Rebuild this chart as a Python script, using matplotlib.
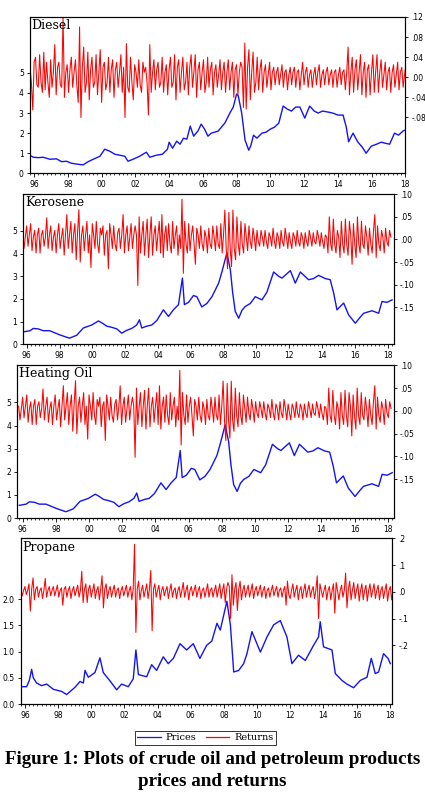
import numpy as np
import matplotlib
matplotlib.use("Agg")
import matplotlib.pyplot as plt
from matplotlib.lines import Line2D
from matplotlib.ticker import MultipleLocator

# ---------------- data ----------------
year_ticks = list(range(1996, 2019, 2))
year_labels = ["96", "98", "00", "02", "04", "06", "08", "10", "12", "14", "16", "18"]

# Diesel prices (date, $/gal)
diesel_dates = [1995.75, 1995.94, 1996.24, 1996.53, 1996.93, 1997.32, 1997.62, 1997.92, 1998.21, 1998.6,
                1998.9, 1999.2, 1999.5, 1999.9, 2000.18, 2000.48, 2000.78, 2001.07, 2001.37, 2001.56,
                2001.86, 2002.25, 2002.65, 2002.85, 2003.24, 2003.6, 2003.9, 2004.0, 2004.2, 2004.45,
                2004.65, 2004.85, 2005.05, 2005.25, 2005.45, 2005.7, 2005.9, 2006.1, 2006.3, 2006.5,
                2006.9, 2007.3, 2007.6, 2007.8, 2008.0, 2008.1, 2008.3, 2008.5, 2008.72, 2008.85,
                2009.0, 2009.2, 2009.5, 2009.75, 2010.0, 2010.25, 2010.5, 2010.76, 2011.0, 2011.25,
                2011.5, 2011.75, 2012.04, 2012.33, 2012.6, 2012.83, 2013.1, 2013.42, 2013.7, 2014.01,
                2014.31, 2014.5, 2014.64, 2014.9, 2015.19, 2015.45, 2015.68, 2015.98, 2016.3, 2016.57,
                2016.8, 2017.07, 2017.36, 2017.6, 2017.86, 2018.1]
diesel_prices = [0.9, 0.8, 0.78, 0.8, 0.7, 0.72, 0.58, 0.6, 0.5, 0.45,
                 0.42, 0.58, 0.7, 0.85, 1.2, 1.1, 0.95, 0.9, 0.85, 0.6,
                 0.7, 0.85, 1.05, 0.8, 0.9, 0.95, 1.2, 1.55, 1.25, 1.6,
                 1.45, 1.75, 1.7, 2.35, 1.85, 2.1, 2.45, 2.2, 1.85, 2.0,
                 2.1, 2.5, 3.0, 3.3, 3.95, 3.85, 3.0, 1.65, 1.15, 1.4,
                 1.9, 1.75, 2.0, 2.05, 2.2, 2.3, 2.5, 3.35, 3.2, 3.1,
                 3.3, 3.3, 2.75, 3.35, 3.1, 3.0, 3.1, 3.05, 3.0, 2.9,
                 2.9, 2.3, 1.57, 2.0, 1.55, 1.3, 1.0, 1.35, 1.45, 1.55,
                 1.5, 1.45, 2.0, 1.9, 2.1, 2.2]
# weekly log returns, thinned to ~12 readings a year
diesel_returns = [
    0.02, -0.01, -0.065, 0.03, 0.04, -0.015, -0.02, 0.045, -0.01, -0.03, 0.05, -0.025,
    0.03, -0.01, -0.04, 0.035, -0.02, 0.01, 0.065, -0.035, 0.02, 0.03, -0.015, -0.02,
    0.12, -0.04, 0.01, 0.025, -0.03, 0.015, 0.04, -0.02, 0.01, 0.035, -0.015, -0.05,
    0.10, -0.08, 0.02, 0.06, -0.03, -0.01, 0.05, -0.045, 0.015, 0.04, -0.02, -0.01,
    0.045, -0.035, 0.01, 0.055, -0.05, 0.02, 0.03, -0.025, -0.01, 0.04, -0.03, 0.015,
    0.035, -0.04, 0.015, 0.03, -0.02, 0.01, 0.045, -0.03, 0.02, -0.08, 0.067, -0.02,
    -0.03, 0.04, -0.01, -0.045, 0.025, 0.01, -0.02, 0.035, -0.015, -0.03, 0.03, 0.01,
    0.02, -0.01, -0.075, 0.065, -0.03, 0.01, 0.035, -0.025, 0.015, 0.03, -0.02, -0.01,
    0.04, -0.03, 0.01, 0.025, -0.035, 0.015, 0.04, -0.02, -0.01, 0.045, -0.045, 0.02,
    0.035, -0.03, 0.01, 0.04, -0.025, -0.01, 0.03, -0.035, 0.02, 0.045, -0.02, 0.01,
    0.045, -0.04, 0.015, 0.03, -0.025, 0.01, 0.035, -0.03, -0.01, 0.04, -0.02, 0.015,
    0.03, -0.035, 0.01, 0.025, -0.02, 0.005, 0.035, -0.025, 0.01, 0.03, -0.03, 0.01,
    0.035, -0.025, 0.01, 0.03, -0.04, 0.015, 0.025, -0.035, 0.01, 0.03, 0.02, -0.06,
    0.068, -0.063, 0.02, 0.055, -0.045, 0.01, 0.05, -0.03, -0.01, 0.04, -0.025, 0.015,
    0.035, -0.03, 0.01, 0.025, -0.02, 0.005, 0.03, -0.025, 0.01, 0.02, -0.015, 0.01,
    0.02, -0.015, 0.005, 0.025, -0.02, 0.01, 0.015, -0.025, 0.005, 0.02, -0.015, 0.01,
    0.02, -0.02, 0.01, 0.015, -0.025, 0.005, 0.03, -0.015, 0.01, 0.02, -0.02, 0.005,
    0.015, -0.02, 0.005, 0.02, -0.015, 0.01, 0.025, -0.02, 0.005, 0.015, -0.015, 0.01,
    0.02, -0.015, 0.005, 0.015, -0.02, 0.01, 0.015, -0.02, 0.005, 0.02, -0.015, 0.01,
    0.015, -0.025, 0.01, 0.06, -0.035, 0.01, 0.04, -0.03, 0.015, 0.035, -0.025, 0.01,
    0.045, -0.035, 0.01, 0.03, -0.04, 0.015, 0.025, -0.035, 0.01, 0.045, -0.03, 0.01,
    0.045, -0.03, 0.01, 0.035, -0.02, 0.005, 0.03, -0.025, 0.01, 0.02, -0.03, 0.01,
    0.025, -0.02, 0.005, 0.03, -0.025, 0.01, 0.02, -0.02, 0.005, 0.025, -0.015, 0.01,
]

# Kerosene prices
kerosene_dates = [1995.79, 1995.9, 1996.2, 1996.4, 1996.7, 1997.0, 1997.4, 1998.0, 1998.6, 1999.05,
                  1999.45, 1999.96, 2000.37, 2000.57, 2000.88, 2001.18, 2001.49, 2001.79, 2002.1, 2002.4,
                  2002.7, 2002.87, 2003.01, 2003.32, 2003.62, 2003.93, 2004.33, 2004.64, 2004.94, 2005.25,
                  2005.49, 2005.61, 2005.86, 2006.16, 2006.37, 2006.67, 2006.98, 2007.29, 2007.7, 2007.9,
                  2008.2, 2008.41, 2008.55, 2008.71, 2008.92, 2009.12, 2009.32, 2009.63, 2009.93, 2010.34,
                  2010.64, 2011.05, 2011.36, 2011.56, 2012.07, 2012.37, 2012.68, 2013.18, 2013.49, 2013.79,
                  2014.2, 2014.5, 2014.71, 2014.91, 2015.32, 2015.62, 2016.03, 2016.33, 2016.54, 2017.05,
                  2017.45, 2017.66, 2017.96, 2018.27]
kerosene_prices = [0.55, 0.56, 0.6, 0.7, 0.68, 0.6, 0.6, 0.42, 0.27, 0.4,
                   0.72, 0.85, 1.03, 0.95, 0.8, 0.75, 0.68, 0.49, 0.62, 0.7,
                   0.85, 1.08, 0.72, 0.8, 0.85, 1.05, 1.52, 1.23, 1.52, 1.75,
                   2.92, 1.75, 1.85, 2.15, 2.1, 1.65, 1.8, 2.1, 2.7, 3.2,
                   4.03, 3.3, 2.3, 1.45, 1.15, 1.5, 1.67, 1.8, 2.1, 1.96,
                   2.3, 3.19, 3.0, 2.92, 3.25, 2.7, 3.19, 2.85, 2.9, 3.04,
                   2.9, 2.85, 2.26, 1.52, 1.82, 1.3, 0.93, 1.2, 1.37, 1.48,
                   1.37, 1.89, 1.85, 1.96]
kerosene_returns = [
    0.01, -0.02, 0.005, 0.03, -0.015, 0.01, 0.035, -0.025, 0.005, 0.02, -0.03, 0.01,
    0.025, -0.03, 0.01, 0.02, -0.015, 0.005, 0.048, -0.02, 0.01, 0.03, -0.025, 0.005,
    0.02, -0.03, 0.01, 0.035, -0.02, 0.005, 0.025, -0.035, 0.01, 0.055, -0.02, 0.01,
    0.04, -0.03, 0.01, 0.035, -0.045, 0.015, 0.066, -0.05, 0.01, 0.03, -0.025, 0.01,
    0.04, -0.03, 0.01, -0.062, 0.035, 0.01, -0.02, 0.04, -0.01, -0.03, 0.025, 0.01,
    0.03, -0.035, 0.01, 0.02, -0.065, 0.035, 0.01, -0.02, 0.03, -0.01, -0.025, 0.015,
    0.025, -0.02, 0.01, 0.055, -0.03, 0.01, 0.03, -0.025, 0.005, 0.035, -0.02, 0.01,
    0.03, 0.01, -0.102, 0.05, -0.03, 0.01, 0.04, -0.035, 0.01, 0.045, -0.04, 0.01,
    0.05, -0.035, 0.01, 0.03, -0.025, 0.01, 0.04, -0.03, 0.055, -0.04, 0.01, 0.03,
    -0.025, 0.035, -0.01, -0.03, 0.04, -0.02, 0.01, 0.03, -0.035, 0.01, -0.02, 0.089,
    -0.075, 0.04, -0.01, -0.03, 0.035, -0.025, 0.01, 0.03, -0.01, -0.055, 0.025, 0.01,
    -0.02, 0.03, -0.01, -0.025, 0.02, 0.005, -0.03, 0.025, -0.01, -0.02, 0.03, 0.005,
    -0.025, 0.03, -0.01, -0.02, 0.035, -0.03, 0.01, 0.065, -0.02, -0.065, 0.06, -0.02,
    -0.06, 0.065, -0.02, -0.045, 0.05, -0.01, -0.035, 0.04, -0.01, -0.03, 0.035, 0.005,
    -0.025, 0.03, -0.005, -0.02, 0.025, 0.005, -0.025, 0.02, -0.005, -0.015, 0.02, 0.005,
    -0.015, 0.02, -0.005, -0.02, 0.015, 0.005, -0.015, 0.025, -0.005, -0.02, 0.015, 0.005,
    -0.02, 0.02, -0.005, -0.015, 0.025, 0.005, -0.02, 0.015, -0.005, -0.02, 0.015, 0.005,
    -0.015, 0.02, -0.005, -0.015, 0.015, 0.005, -0.02, 0.015, -0.005, -0.015, 0.02, 0.005,
    -0.015, 0.015, -0.005, -0.01, 0.02, 0.005, -0.015, 0.015, -0.005, -0.02, 0.01, 0.005,
    -0.03, 0.05, -0.01, -0.025, 0.045, -0.01, -0.03, 0.02, 0.005, -0.04, 0.04, -0.01,
    -0.03, 0.045, -0.01, -0.035, 0.04, 0.01, -0.055, 0.035, -0.01, -0.04, 0.05, -0.01,
    -0.03, 0.04, -0.01, -0.02, 0.03, 0.005, -0.035, 0.025, -0.01, -0.03, 0.02, 0.055,
    -0.04, 0.03, -0.01, -0.025, 0.02, 0.005, -0.03, 0.025, -0.005, -0.015, 0.02, 0.005,
]

# Heating oil: in the picture it is indistinguishable from kerosene
heating_dates = kerosene_dates
heating_prices = kerosene_prices
heating_returns = kerosene_returns

# Propane prices
propane_dates = [1995.74, 1996.1, 1996.26, 1996.4, 1996.5, 1996.7, 1997.0, 1997.31, 1997.71, 1998.21,
                 1998.51, 1999.02, 1999.32, 1999.52, 1999.62, 1999.82, 2000.22, 2000.52, 2000.72, 2001.13,
                 2001.53, 2001.83, 2002.23, 2002.53, 2002.69, 2002.84, 2003.34, 2003.64, 2003.94, 2004.34,
                 2004.64, 2004.95, 2005.35, 2005.75, 2006.15, 2006.55, 2006.96, 2007.27, 2007.58, 2007.78,
                 2008.18, 2008.39, 2008.59, 2008.89, 2009.19, 2009.39, 2009.69, 2010.2, 2010.6, 2011.0,
                 2011.4, 2011.8, 2012.1, 2012.5, 2012.91, 2013.41, 2013.71, 2013.81, 2014.01, 2014.52,
                 2014.72, 2015.12, 2015.42, 2015.82, 2016.23, 2016.63, 2016.89, 2017.13, 2017.33, 2017.63,
                 2017.9, 2018.04]
propane_prices = [0.33, 0.33, 0.45, 0.66, 0.5, 0.4, 0.35, 0.38, 0.28, 0.24,
                  0.18, 0.32, 0.43, 0.4, 0.64, 0.51, 0.6, 0.88, 0.6, 0.44,
                  0.27, 0.38, 0.33, 0.48, 1.03, 0.56, 0.52, 0.75, 0.64, 0.9,
                  0.77, 0.87, 1.15, 1.03, 1.15, 0.87, 1.12, 1.2, 1.54, 1.41,
                  1.96, 1.51, 0.61, 0.64, 0.77, 0.96, 1.38, 0.99, 1.28, 1.51,
                  1.59, 1.28, 0.77, 0.93, 0.83, 1.12, 1.28, 1.57, 1.09, 1.03,
                  0.58, 0.45, 0.38, 0.31, 0.45, 0.51, 0.87, 0.58, 0.61, 0.96,
                  0.87, 0.77]
propane_returns = [
    0.01, -0.015, 0.005, 0.02, -0.01, 0.005, 0.03, -0.072, 0.01, 0.052, -0.03, 0.01,
    0.02, -0.02, 0.005, 0.015, -0.025, 0.005, 0.05, -0.02, 0.005, 0.02, -0.015, 0.005,
    0.02, -0.015, 0.005, 0.025, -0.02, 0.005, 0.015, -0.05, 0.01, 0.02, -0.02, 0.005,
    0.02, -0.025, 0.005, 0.02, -0.015, 0.005, 0.025, -0.02, 0.005, 0.077, -0.04, 0.01,
    0.03, -0.04, 0.01, 0.025, -0.02, 0.005, 0.03, -0.025, 0.005, 0.02, -0.03, 0.01,
    0.06, -0.06, 0.01, 0.03, -0.025, 0.005, 0.02, -0.02, 0.005, 0.025, -0.02, 0.005,
    0.015, -0.025, 0.005, 0.02, -0.015, 0.005, 0.025, -0.02, 0.005, 0.02, -0.03, 0.01,
    0.178, -0.152, 0.01, 0.04, -0.03, 0.005, 0.025, -0.02, 0.005, 0.03, -0.025, 0.01,
    0.08, -0.146, 0.01, 0.03, -0.02, 0.005, 0.025, -0.03, 0.005, 0.02, -0.015, 0.005,
    0.02, -0.025, 0.005, 0.03, -0.02, 0.005, 0.015, -0.025, 0.005, 0.02, -0.02, 0.005,
    0.035, -0.02, 0.005, 0.025, -0.03, 0.005, 0.02, -0.015, 0.005, 0.025, -0.02, 0.005,
    0.02, -0.025, 0.005, 0.015, -0.02, 0.005, 0.03, -0.02, 0.005, 0.015, -0.02, 0.005,
    0.025, -0.02, 0.005, 0.03, -0.025, 0.005, 0.03, -0.04, 0.01, 0.035, 0.02, -0.1,
    0.064, -0.05, 0.01, 0.035, -0.07, 0.01, 0.04, -0.03, 0.005, 0.025, -0.02, 0.005,
    0.025, -0.02, 0.005, 0.03, -0.025, 0.005, 0.02, -0.015, 0.005, 0.025, -0.02, 0.005,
    0.02, -0.025, 0.005, 0.015, -0.02, 0.005, 0.025, -0.015, 0.005, 0.02, -0.02, 0.005,
    0.015, -0.02, 0.005, 0.02, -0.05, 0.04, -0.01, -0.025, 0.005, 0.03, -0.02, 0.005,
    0.025, -0.03, 0.005, 0.02, -0.025, 0.005, 0.03, -0.02, 0.005, 0.025, -0.02, 0.005,
    0.02, -0.025, 0.005, 0.06, -0.1, 0.03, 0.005, -0.02, 0.005, 0.025, -0.03, 0.005,
    0.02, -0.03, 0.005, 0.03, -0.08, 0.035, 0.005, -0.03, 0.005, 0.025, -0.02, 0.005,
    0.07, -0.06, 0.01, 0.04, -0.03, 0.005, 0.035, -0.025, 0.005, 0.03, -0.035, 0.005,
    0.03, -0.03, 0.005, 0.025, -0.035, 0.005, 0.03, -0.02, 0.005, 0.03, -0.025, 0.005,
    0.025, -0.03, 0.005, 0.02, -0.025, 0.005, 0.03, -0.035, 0.005, 0.02, -0.03, 0.005,
]

returns_start, returns_end = 1995.75, 2018.2

W, H = 425, 793
BLUE = "#1414f0"
RED = "#ff0000"
TICK_FONT = dict(family="DejaVu Sans", size=5.5)


def px_rect(left, right, top, bottom):
    return [left / W, 1 - bottom / H, (right - left) / W, (bottom - top) / H]


panels = [
    dict(name="Diesel", rect=px_rect(30, 405.3, 16.7, 173.3), xlim=(1995.75, 2017.94),
         dates=diesel_dates, prices=diesel_prices, returns=diesel_returns,
         pylim=(0, 7.8), pticks=[0, 1, 2, 3, 4, 5], plabels=["0", "1", "2", "3", "4", "5"],
         rylim=(-0.191, 0.1205), rticks=[0.12, 0.08, 0.04, 0.0, -0.04, -0.08],
         rlabels=[".12", ".08", ".04", ".00", "-.04", "-.08"]),
    dict(name="Kerosene", rect=px_rect(23.3, 393.7, 194, 344.3), xlim=(1995.79, 2018.37),
         dates=kerosene_dates, prices=kerosene_prices, returns=kerosene_returns,
         pylim=(0, 6.63), pticks=[0, 1, 2, 3, 4, 5], plabels=["0", "1", "2", "3", "4", "5"],
         rylim=(-0.232, 0.1005), rticks=[0.10, 0.05, 0.0, -0.05, -0.10, -0.15],
         rlabels=[".10", ".05", ".00", "-.05", "-.10", "-.15"]),
    dict(name="Heating Oil", rect=px_rect(17.3, 393.7, 365, 518), xlim=(1995.67, 2018.36),
         dates=heating_dates, prices=heating_prices, returns=heating_returns,
         pylim=(0, 6.62), pticks=[0, 1, 2, 3, 4, 5], plabels=["0", "1", "2", "3", "4", "5"],
         rylim=(-0.235, 0.1005), rticks=[0.10, 0.05, 0.0, -0.05, -0.10, -0.15],
         rlabels=[".10", ".05", ".00", "-.05", "-.10", "-.15"]),
    dict(name="Propane", rect=px_rect(20.7, 392, 538.3, 704), xlim=(1995.74, 2018.14),
         dates=propane_dates, prices=propane_prices, returns=propane_returns,
         pylim=(0, 3.16), pticks=[0, 0.5, 1.0, 1.5, 2.0], plabels=["0.0", "0.5", "1.0", "1.5", "2.0"],
         rylim=(-0.42, 0.2005), rticks=[0.2, 0.1, 0.0, -0.1, -0.2],
         rlabels=[".2", ".1", ".0", "-.1", "-.2"]),
]

fig = plt.figure(figsize=(W / 100, H / 100), dpi=100)

for p in panels:
    ax = fig.add_axes(p["rect"])
    ax2 = ax.twinx()

    ax.plot(p["dates"], p["prices"], color=BLUE, linewidth=1.0)
    rx = np.linspace(returns_start, returns_end, len(p["returns"]))
    ax2.plot(rx, p["returns"], color=RED, linewidth=0.75)

    ax.set_xlim(*p["xlim"])
    ax.set_ylim(*p["pylim"])
    ax2.set_ylim(*p["rylim"])

    ax.set_xticks(year_ticks)
    ax.set_xticklabels(year_labels, fontdict=TICK_FONT)
    ax.xaxis.set_minor_locator(MultipleLocator(0.25))
    ax.set_yticks(p["pticks"])
    ax.set_yticklabels(p["plabels"], fontdict=TICK_FONT)
    ax2.set_yticks(p["rticks"])
    ax2.set_yticklabels(p["rlabels"], fontdict=TICK_FONT)

    ax.tick_params(axis="x", which="major", direction="out", length=3, width=0.6, pad=2)
    ax.tick_params(axis="x", which="minor", direction="out", length=1.6, width=0.5)
    ax.tick_params(axis="y", direction="out", length=2.5, width=0.6, pad=2)
    ax2.tick_params(axis="y", direction="out", length=2.5, width=0.6, pad=2)

    for a in (ax, ax2):
        for s in a.spines.values():
            s.set_linewidth(0.8)
            s.set_color("black")

    ax2.text(0.004, 0.985, p["name"], transform=ax.transAxes, ha="left", va="top",
             family="DejaVu Serif", fontsize=9, zorder=5)

handles = [Line2D([], [], color=BLUE, linewidth=0.9), Line2D([], [], color=RED, linewidth=0.9)]
leg = fig.legend(handles, ["Prices", "Returns"], loc="center", ncol=2,
                 bbox_to_anchor=(205.5 / W, 1 - 738 / H), frameon=True, fancybox=False,
                 edgecolor="black", prop=dict(family="DejaVu Serif", size=7),
                 handlelength=2.4, handletextpad=0.5, columnspacing=1.0,
                 borderpad=0.25, borderaxespad=0)
leg.get_frame().set_linewidth(0.7)

fig.text(0.5, 1 - 764 / H, "Figure 1: Plots of crude oil and petroleum products",
         ha="center", va="baseline", family="Liberation Serif", fontweight="bold", fontsize=13.7)
fig.text(0.5, 1 - 786 / H, "prices and returns",
         ha="center", va="baseline", family="Liberation Serif", fontweight="bold", fontsize=13.7)

fig.savefig("out.png", dpi=100)
